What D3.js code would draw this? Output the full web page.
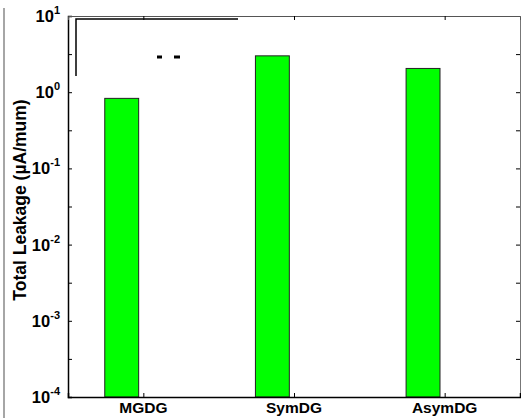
<!DOCTYPE html>
<html>
<head>
<meta charset="utf-8">
<script src="https://cdn.jsdelivr.net/npm/d3@7"></script>
<style>
  body { margin: 0; background: #fff; }
  svg { display: block; font-family: "Liberation Sans", Arial, sans-serif; font-weight: bold; }
</style>
</head>
<body>
<div id="chart"></div>
<script>
const categories = ["MGDG", "SymDG", "AsymDG"];
const leakage = [0.83, 3.0, 2.05];
const decades = [-4, -3, -2, -1, 0, 1];

const width = 521, height = 418;
const margin = { top: 16, right: 1, bottom: 21, left: 68 };

const svg = d3.select("#chart").append("svg")
    .attr("width", width)
    .attr("height", height);

const x = d3.scaleLinear()
    .domain([0.5, 3.5])
    .range([margin.left, width - margin.right]);

const y = d3.scaleLog()
    .domain([1e-4, 10])
    .range([height - margin.bottom, margin.top]);

// outer frame line on the left
svg.append("line")
    .attr("x1", 4).attr("x2", 4).attr("y1", 8).attr("y2", height)
    .attr("stroke", "#888").attr("stroke-width", 1.5);

// bars (one series of a grouped bar, sits left of the tick)
svg.selectAll(".bar")
    .data(leakage)
    .enter()
    .append("rect")
    .attr("class", "bar")
    .attr("x", (d, i) => x(i + 1 - 0.256))
    .attr("width", x(0.725) - x(0.5))
    .attr("y", d => y(d))
    .attr("height", d => y(1e-4) - y(d))
    .attr("fill", "#00ff00")
    .attr("stroke", "#222")
    .attr("stroke-width", 1);

// minor + major y ticks every half decade
const yTicks = [];
decades.forEach(k => { yTicks.push(Math.pow(10, k)); if (k < 1) yTicks.push(Math.pow(10, k + 0.5)); });

svg.append("g")
    .attr("transform", `translate(${margin.left},0)`)
    .call(d3.axisLeft(y).tickValues(yTicks).tickSize(-4).tickFormat(""))
    .call(g => g.select(".domain").attr("stroke-width", 1.5));

svg.append("g")
    .attr("transform", `translate(${width - margin.right},0)`)
    .call(d3.axisRight(y).tickValues(yTicks).tickSize(-4).tickFormat(""))
    .call(g => g.select(".domain").attr("stroke", "#777"));

svg.append("g")
    .attr("transform", `translate(0,${height - margin.bottom})`)
    .call(d3.axisBottom(x).tickValues([1, 2, 3]).tickSize(-4).tickFormat(""))
    .call(g => g.select(".domain").attr("stroke-width", 1.5));

svg.append("g")
    .attr("transform", `translate(0,${margin.top})`)
    .call(d3.axisTop(x).tickValues([1, 2, 3]).tickSize(-4).tickFormat(""))
    .call(g => g.select(".domain").attr("stroke", "#555"));

// y tick labels 10^k
decades.forEach(k => {
    const t = svg.append("text")
        .attr("x", 60)
        .attr("y", y(Math.pow(10, k)) + 6)
        .attr("text-anchor", "end")
        .attr("font-size", 16.5);
    t.append("tspan").text("10");
    t.append("tspan").attr("dy", -8).attr("font-size", 11).text(k);
});

// category labels
svg.selectAll(".cat")
    .data(categories)
    .enter()
    .append("text")
    .attr("x", (d, i) => x(i + 1))
    .attr("y", 413)
    .attr("text-anchor", "middle")
    .attr("font-size", 15.5)
    .text(d => d);

// y axis title
svg.append("text")
    .attr("transform", "translate(26,200) rotate(-90)")
    .attr("text-anchor", "middle")
    .attr("font-size", 17.5)
    .text("Total Leakage (\u00b5A/mum)");

// remains of the legend box
svg.append("path")
    .attr("d", "M76,76 V19 H238")
    .attr("fill", "none")
    .attr("stroke", "#000")
    .attr("stroke-width", 1.5);
svg.append("path")
    .attr("d", "M157,57 H162 M174,57 H180")
    .attr("stroke", "#000")
    .attr("stroke-width", 3);
</script>
</body>
</html>
